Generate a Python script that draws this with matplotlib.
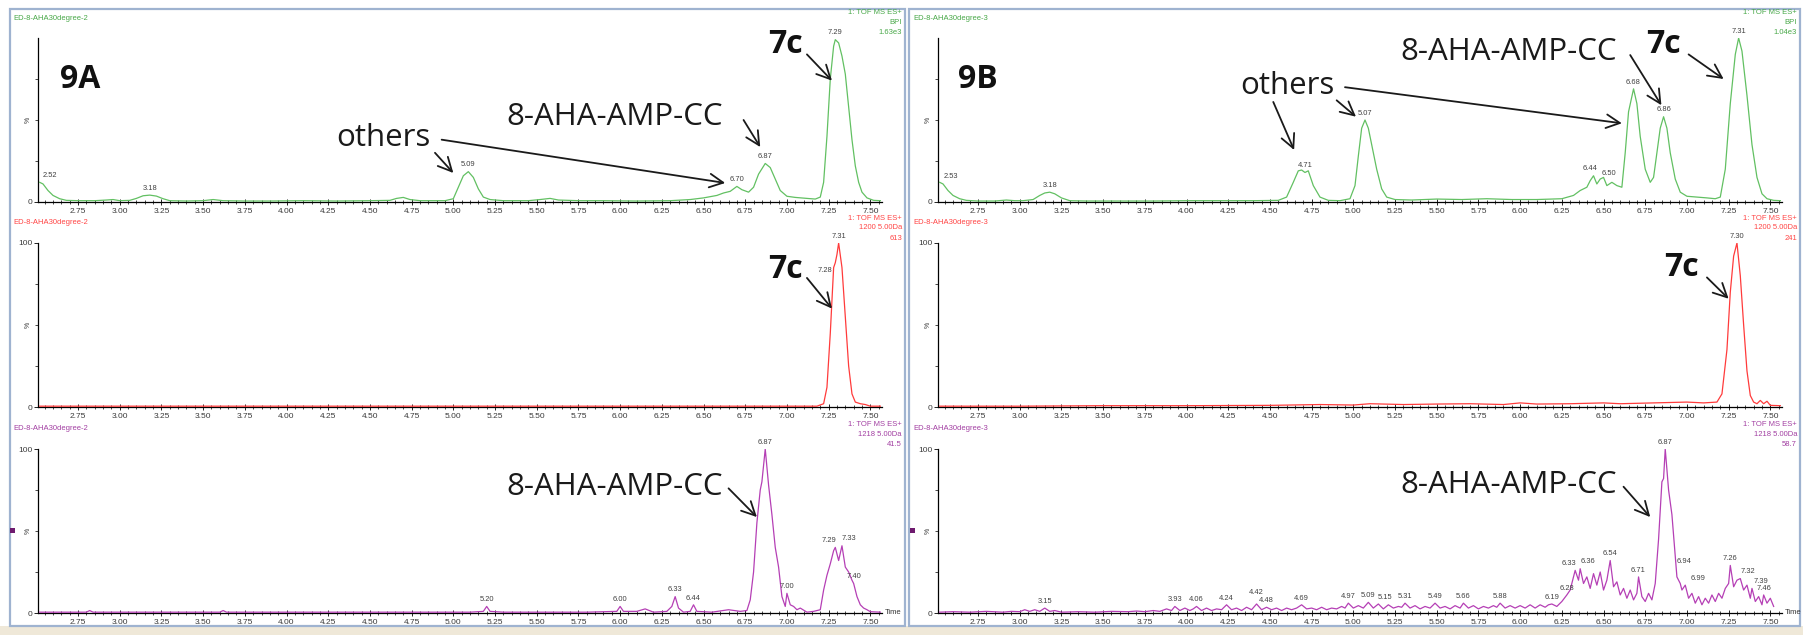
import numpy as np
import matplotlib
matplotlib.use('Agg')
import matplotlib.pyplot as plt
from matplotlib.patches import Rectangle
from matplotlib.ticker import FixedLocator, MultipleLocator, FormatStrFormatter

plt.rcParams['font.family'] = ['Liberation Sans', 'DejaVu Sans']

# chromatogram traces as (retention time [min], relative intensity [%])
bpi_a = [(2.52, 12), (2.54, 11), (2.57, 7), (2.60, 4), (2.64, 2), (2.68, 1), (2.75, 0.8), (2.85, 0.8),
         (2.92, 1.2), (2.96, 1.5), (3.00, 0.8), (3.06, 1), (3.10, 2.2), (3.14, 3.8), (3.18, 4.2), (3.22, 3.6),
         (3.26, 2), (3.30, 0.8), (3.40, 0.6), (3.50, 0.8), (3.56, 1.5), (3.62, 0.8), (3.75, 0.6), (3.90, 0.6),
         (4.10, 0.8), (4.30, 0.6), (4.50, 0.8), (4.62, 1), (4.66, 2.2), (4.70, 2.8), (4.74, 1.5), (4.80, 0.8),
         (4.95, 0.8), (5.00, 2), (5.03, 9), (5.06, 16), (5.09, 18.5), (5.12, 15), (5.15, 8), (5.18, 3),
         (5.22, 1.5), (5.30, 0.8), (5.45, 0.8), (5.52, 1.5), (5.58, 2.2), (5.63, 1.2), (5.75, 0.8), (5.90, 0.8),
         (6.10, 0.6), (6.30, 0.8), (6.42, 1.5), (6.50, 2.5), (6.58, 4), (6.62, 5.5), (6.66, 6.5), (6.70, 9.5),
         (6.73, 7.5), (6.77, 6), (6.80, 9), (6.83, 17), (6.87, 23.5), (6.90, 21), (6.93, 14), (6.96, 7),
         (7.00, 3.5), (7.05, 2.8), (7.12, 2.2), (7.17, 1.8), (7.20, 3), (7.22, 12), (7.24, 40), (7.26, 75),
         (7.28, 95), (7.29, 99), (7.31, 97), (7.33, 89), (7.35, 78), (7.37, 58), (7.39, 38), (7.41, 22),
         (7.43, 12), (7.45, 6), (7.48, 2.5), (7.52, 1), (7.56, 0.8)]

bpi_b = [(2.52, 12), (2.54, 11), (2.57, 7), (2.60, 4), (2.64, 2), (2.68, 1), (2.75, 0.6), (2.85, 0.6),
         (2.92, 1.2), (2.97, 0.8), (3.02, 0.8), (3.08, 1.5), (3.12, 4), (3.15, 5.5), (3.18, 6), (3.21, 5),
         (3.25, 2.5), (3.30, 0.8), (3.40, 0.6), (3.60, 0.6), (3.80, 0.6), (4.00, 0.8), (4.20, 0.8), (4.40, 0.8),
         (4.55, 1), (4.60, 3), (4.64, 12), (4.67, 19), (4.69, 19.5), (4.71, 18), (4.73, 19), (4.76, 10),
         (4.80, 3), (4.85, 1), (4.92, 0.8), (4.98, 2), (5.01, 10), (5.03, 28), (5.05, 45), (5.07, 50),
         (5.09, 45), (5.11, 35), (5.14, 20), (5.17, 8), (5.20, 3), (5.25, 1.5), (5.35, 1.2), (5.50, 1.8),
         (5.65, 1.5), (5.80, 2), (5.95, 1.5), (6.10, 1.5), (6.25, 2), (6.32, 4), (6.36, 7), (6.40, 9),
         (6.42, 13), (6.44, 16), (6.46, 11), (6.48, 14), (6.50, 15), (6.52, 10), (6.55, 12), (6.58, 10),
         (6.61, 9), (6.63, 30), (6.65, 55), (6.68, 69), (6.70, 60), (6.72, 40), (6.75, 20), (6.78, 12),
         (6.80, 15), (6.82, 30), (6.84, 45), (6.86, 52), (6.88, 45), (6.90, 30), (6.93, 14), (6.96, 6),
         (7.00, 3.5), (7.06, 3), (7.12, 2.5), (7.17, 2), (7.20, 3), (7.23, 20), (7.26, 60), (7.29, 90),
         (7.31, 100), (7.33, 92), (7.36, 65), (7.39, 35), (7.42, 15), (7.45, 5), (7.48, 2), (7.52, 1),
         (7.56, 0.8)]

sir1200_a = [(2.52, 0.5), (3.00, 0.5), (4.00, 0.5), (5.00, 0.5), (6.00, 0.5), (7.00, 0.5), (7.18, 0.5),
             (7.22, 2), (7.24, 12), (7.26, 45), (7.28, 85), (7.29, 88), (7.30, 93), (7.31, 100), (7.33, 85),
             (7.35, 55), (7.37, 25), (7.39, 8), (7.41, 3), (7.44, 2), (7.47, 1.5), (7.50, 0.5), (7.56, 0.5)]

sir1200_b = [(2.52, 0.5), (3.00, 0.5), (3.50, 0.8), (4.00, 0.8), (4.50, 1), (4.80, 1.5), (5.00, 1.2),
             (5.10, 2), (5.30, 1.5), (5.50, 1.8), (5.70, 2), (5.90, 1.5), (6.00, 2.5), (6.10, 1.8), (6.30, 2),
             (6.50, 2.5), (6.60, 2), (6.80, 2.5), (7.00, 3), (7.10, 2.5), (7.18, 3), (7.21, 8), (7.24, 35),
             (7.26, 70), (7.28, 92), (7.30, 100), (7.32, 80), (7.34, 50), (7.36, 22), (7.38, 7), (7.40, 3),
             (7.42, 2), (7.44, 4), (7.46, 2), (7.48, 3.5), (7.50, 1), (7.56, 0.8)]

sir1218_a = [(2.52, 0.5), (2.80, 0.5), (2.82, 1.5), (2.84, 0.5), (3.50, 0.5), (3.60, 0.5), (3.62, 1.5),
             (3.64, 0.5), (4.50, 0.5), (5.10, 0.5), (5.18, 1), (5.20, 4), (5.22, 1), (5.30, 0.5), (5.80, 0.5),
             (5.98, 1), (6.00, 4), (6.02, 1), (6.10, 1), (6.15, 2.5), (6.20, 0.5), (6.28, 1), (6.31, 4),
             (6.33, 10), (6.35, 3), (6.38, 0.5), (6.42, 1), (6.44, 5), (6.46, 1), (6.55, 0.5), (6.65, 2),
             (6.72, 1), (6.76, 1.5), (6.78, 8), (6.80, 25), (6.82, 55), (6.84, 75), (6.85, 80), (6.87, 100),
             (6.89, 78), (6.91, 60), (6.93, 40), (6.95, 28), (6.97, 10), (6.99, 4), (7.00, 12), (7.02, 5),
             (7.04, 4), (7.06, 2), (7.08, 3), (7.12, 0.5), (7.16, 1), (7.20, 2), (7.22, 14), (7.24, 23),
             (7.26, 30), (7.28, 38), (7.29, 40), (7.31, 32), (7.33, 41), (7.35, 28), (7.37, 25), (7.39, 20),
             (7.40, 18), (7.42, 10), (7.44, 5), (7.46, 3), (7.48, 2), (7.50, 0.8), (7.56, 0.5)]

sir1218_b = [(2.52, 0.5), (2.60, 0.8), (2.70, 0.5), (2.80, 1), (2.90, 0.5), (2.95, 1), (3.00, 0.8), (3.03, 2),
             (3.06, 1), (3.09, 2), (3.12, 1), (3.15, 3), (3.18, 1), (3.21, 1.5), (3.25, 0.5), (3.35, 0.8),
             (3.45, 0.5), (3.55, 1), (3.65, 0.8), (3.70, 1.2), (3.75, 0.8), (3.80, 1.5), (3.84, 1), (3.88, 2.5),
             (3.91, 1.5), (3.93, 4), (3.96, 1.5), (3.99, 3), (4.02, 1.5), (4.04, 2.5), (4.06, 4), (4.09, 1.5),
             (4.12, 3), (4.15, 1.5), (4.18, 2.5), (4.21, 2), (4.24, 5), (4.27, 2), (4.30, 3), (4.33, 1.5),
             (4.36, 3.5), (4.39, 2), (4.42, 5.5), (4.45, 2), (4.48, 3.5), (4.51, 2), (4.54, 3), (4.57, 1.5),
             (4.60, 3), (4.63, 2), (4.66, 3), (4.69, 5), (4.72, 2.5), (4.75, 3), (4.78, 2), (4.81, 3.5),
             (4.84, 2), (4.87, 3), (4.90, 2.5), (4.93, 4), (4.95, 3), (4.97, 6), (5.00, 3), (5.03, 4.5),
             (5.06, 3), (5.09, 6.5), (5.12, 3), (5.15, 5.5), (5.18, 2.5), (5.21, 5), (5.24, 3), (5.27, 4),
             (5.29, 3.5), (5.31, 6), (5.34, 3), (5.37, 4.5), (5.40, 2.5), (5.43, 4), (5.46, 3), (5.49, 6),
             (5.52, 3), (5.55, 4), (5.58, 2.5), (5.61, 4.5), (5.64, 3), (5.66, 6), (5.69, 3), (5.72, 4.5),
             (5.75, 2.5), (5.78, 4), (5.81, 3), (5.84, 4.5), (5.86, 3.5), (5.88, 6), (5.91, 3), (5.94, 4.5),
             (5.97, 3), (6.00, 4.5), (6.03, 3), (6.06, 5), (6.09, 3), (6.12, 5), (6.15, 3.5), (6.17, 5),
             (6.19, 5.5), (6.22, 4), (6.25, 7), (6.28, 11), (6.30, 14), (6.33, 26), (6.35, 20), (6.36, 27),
             (6.38, 18), (6.40, 22), (6.42, 15), (6.44, 24), (6.46, 17), (6.48, 25), (6.50, 14), (6.52, 20),
             (6.54, 32), (6.56, 16), (6.58, 19), (6.60, 11), (6.62, 15), (6.64, 9), (6.66, 14), (6.68, 8),
             (6.70, 12), (6.71, 22), (6.73, 10), (6.75, 7), (6.77, 12), (6.79, 8), (6.81, 18), (6.83, 45),
             (6.85, 80), (6.86, 82), (6.87, 100), (6.89, 75), (6.91, 60), (6.93, 35), (6.94, 22), (6.96, 18),
             (6.97, 14), (6.99, 17), (7.01, 9), (7.03, 12), (7.05, 6), (7.07, 10), (7.09, 5), (7.11, 9),
             (7.13, 6), (7.15, 11), (7.17, 7), (7.19, 12), (7.21, 9), (7.23, 15), (7.25, 18), (7.26, 29),
             (7.28, 16), (7.30, 20), (7.32, 21), (7.34, 14), (7.36, 17), (7.38, 9), (7.39, 15), (7.41, 7),
             (7.43, 10), (7.45, 5), (7.46, 11), (7.48, 6), (7.50, 9), (7.52, 4)]

# labelled peak apexes (retention times)
peaks_bpi_a = [2.52, 3.18, 5.09, 6.70, 6.87, 7.29]
peaks_bpi_b = [2.53, 3.18, 4.71, 5.07, 6.44, 6.50, 6.68, 6.86, 7.31]
peaks_1200_a = [7.28, 7.31]
peaks_1200_b = [7.30]
peaks_1218_a = [5.20, 6.00, 6.33, 6.44, 6.87, 7.00, 7.29, 7.33, 7.40]
peaks_1218_b = [3.15, 3.93, 4.06, 4.24, 4.42, 4.48, 4.69, 4.97, 5.09, 5.15, 5.31, 5.49, 5.66, 5.88,
                6.19, 6.28, 6.33, 6.36, 6.54, 6.71, 6.87, 6.94, 6.99, 7.26, 7.32, 7.39, 7.46]

runs = ['ED-8-AHA30degree-2', 'ED-8-AHA30degree-3']
info_bpi = [['1: TOF MS ES+', 'BPI', '1.63e3'], ['1: TOF MS ES+', 'BPI', '1.04e3']]
info_1200 = [['1: TOF MS ES+', '1200 5.00Da', '613'], ['1: TOF MS ES+', '1200 5.00Da', '241']]
info_1218 = [['1: TOF MS ES+', '1218 5.00Da', '41.5'], ['1: TOF MS ES+', '1218 5.00Da', '58.7']]

GREEN, RED, PURPLE = '#62c062', '#ff3b3b', '#b53fb5'
TXT_GREEN, TXT_RED, TXT_PURPLE = '#48a848', '#ff4545', '#a23fa2'

W, H = 1803, 635
fig = plt.figure(figsize=(W / 100, H / 100), dpi=100)
fig.patch.set_facecolor('white')

col_x0 = [38, 938]
row_y = [(38, 202), (243, 407), (449, 613)]
AX_W = 844


def fx(x):
    return x / W


def fy(y):
    return 1 - y / H


# window frames and bottom strip
fig.add_artist(Rectangle((0, 0), 1, fy(626), transform=fig.transFigure, fc='#efe8d8', ec='none'))
for x0, x1 in [(10, 905), (909, 1800)]:
    fig.add_artist(Rectangle((fx(x0), fy(626)), fx(x1 - x0), (626 - 9) / H, transform=fig.transFigure,
                             fill=False, ec='#9fb3d0', lw=1.6))

panels = [
    (0, 0, bpi_a, GREEN, TXT_GREEN, info_bpi[0], peaks_bpi_a, False),
    (1, 0, bpi_b, GREEN, TXT_GREEN, info_bpi[1], peaks_bpi_b, False),
    (0, 1, sir1200_a, RED, TXT_RED, info_1200[0], peaks_1200_a, True),
    (1, 1, sir1200_b, RED, TXT_RED, info_1200[1], peaks_1200_b, True),
    (0, 2, sir1218_a, PURPLE, TXT_PURPLE, info_1218[0], peaks_1218_a, True),
    (1, 2, sir1218_b, PURPLE, TXT_PURPLE, info_1218[1], peaks_1218_b, True),
]

# small shifts for crowded apex labels: (dx [min], dy [%], ha)
nudge = {
    (0, 0, '2.52'): (0.06, 0, 'center'),
    (1, 0, '2.53'): (0.06, 0, 'center'),
    (1, 0, '6.44'): (-0.02, 0, 'center'),
    (1, 0, '6.50'): (0.03, -2, 'center'),
    (0, 1, '7.28'): (-0.01, -6, 'right'),
    (0, 2, '7.29'): (0.005, 0, 'right'),
    (0, 2, '7.33'): (0.0, 0, 'left'),
    (1, 2, '4.42'): (0, 3, 'center'),
    (1, 2, '5.15'): (0.04, 0, 'center'),
    (1, 2, '6.33'): (0.005, 0, 'right'),
    (1, 2, '6.36'): (0.0, 0, 'left'),
    (1, 2, '6.94'): (0.0, 5, 'left'),
    (1, 2, '6.99'): (0.03, 0, 'left'),
    (1, 2, '7.32'): (0.0, 0, 'left'),
    (1, 2, '7.39'): (0.01, 0, 'left'),
}

axes = {}
for col, row, trace, color, tcolor, info, peaks, full_scale in panels:
    top, bot = row_y[row]
    x0 = col_x0[col]
    ax = fig.add_axes([fx(x0), fy(bot), AX_W / W, (bot - top) / H])
    axes[(col, row)] = ax
    t, p = np.array(trace).T
    ax.plot(t, p, color=color, lw=0.9)
    ax.set_xlim(2.51, 7.57)
    ax.set_ylim(0, 100)
    ax.patch.set_alpha(0)
    for s in ['top', 'right']:
        ax.spines[s].set_visible(False)
    for s in ['left', 'bottom']:
        ax.spines[s].set_linewidth(0.9)
        ax.spines[s].set_zorder(1)
    ax.xaxis.set_major_locator(FixedLocator(np.arange(2.75, 7.51, 0.25)))
    ax.xaxis.set_major_formatter(FormatStrFormatter('%.2f'))
    ax.xaxis.set_minor_locator(MultipleLocator(0.05))
    ax.tick_params(axis='x', which='major', direction='inout', length=4, width=0.6,
                   labelsize=6, labelcolor='#3a3a3a', pad=2)
    ax.tick_params(axis='x', which='minor', direction='inout', length=2.5, width=0.5)
    if full_scale:
        ax.set_yticks([0, 100])
        ax.set_yticklabels(['0', '100'])
    else:
        ax.set_yticks([0])
        ax.set_yticklabels(['0'])
    ax.yaxis.set_minor_locator(FixedLocator([25, 50, 75]))
    ax.tick_params(axis='y', which='major', direction='out', length=3, width=0.6,
                   labelsize=6, labelcolor='#3a3a3a', pad=1)
    ax.tick_params(axis='y', which='minor', direction='out', length=2, width=0.5)
    ax.text(-0.012, 50, '%', transform=ax.get_yaxis_transform(), rotation=90, fontsize=5,
            color='#333333', ha='center', va='center')

    # apex retention-time labels
    for pk in peaks:
        lab = f'{pk:.2f}'
        dx, dy, ha = nudge.get((col, row, lab), (0, 0, 'center'))
        h = np.interp(pk, t, p)
        ax.text(pk + dx, h + 2 + dy, lab, fontsize=5.4, color='#404040', ha=ha, va='bottom', clip_on=False)

    # run name and trace description
    fig.text(fx(x0 - 25), fy(top - 20), runs[col], fontsize=5.5, color=tcolor, va='center')
    right = 902 if col == 0 else 1797
    for i, line in enumerate(info):
        fig.text(fx(right), fy(top - 25 + 10 * i), line, fontsize=5.5, color=tcolor, ha='right', va='center')

    if row == 2:
        fig.text(fx(x0 + AX_W + 3), fy(bot), 'Time', fontsize=5.5, color='#333333', va='center')
        fig.add_artist(Rectangle((fx(x0 - 28), fy(bot - 80)), 5 / W, 5 / H, transform=fig.transFigure,
                                 fc='#6e1a6e', ec='none'))

BIG = dict(family='Open Sans', fontsize=22.5, color='#1a1a1a')
BOLD = dict(family='Open Sans', fontsize=23, fontweight='bold', color='#111111')
ARROW = dict(arrowstyle='->,head_length=0.7,head_width=0.35', lw=1.3, color='#1a1a1a',
             shrinkA=0, shrinkB=0, mutation_scale=14)


def arrow(ax, tail, head):
    ax.annotate('', xy=head, xytext=tail, arrowprops=ARROW, annotation_clip=False)


# 9A: base peak chromatogram
ax = axes[(0, 0)]
ax.text(2.64, 75, '9A', va='center', ha='left', **BOLD)
ax.text(4.30, 39, 'others', va='center', ha='left', **BIG)
arrow(ax, (4.89, 30), (5.00, 17.7))
arrow(ax, (4.93, 38), (6.63, 11.6))
ax.text(5.316, 52, '8-AHA-AMP-CC', va='center', ha='left', **BIG)
arrow(ax, (6.74, 50), (6.84, 33.5))
ax.text(6.99, 96, '7c', va='center', ha='center', **BOLD)
arrow(ax, (7.12, 90), (7.27, 74))

# 9B: base peak chromatogram
ax = axes[(1, 0)]
ax.text(2.63, 75, '9B', va='center', ha='left', **BOLD)
ax.text(4.32, 71, 'others', va='center', ha='left', **BIG)
arrow(ax, (4.52, 61), (4.645, 31.7))
arrow(ax, (4.90, 62), (5.016, 52))
arrow(ax, (4.95, 70), (6.61, 48))
ax.text(5.284, 91.5, '8-AHA-AMP-CC', va='center', ha='left', **BIG)
arrow(ax, (6.66, 89.6), (6.847, 59))
ax.text(6.86, 96, '7c', va='center', ha='center', **BOLD)
arrow(ax, (7.01, 90), (7.22, 75))

# m/z 1200 extracted ion chromatograms
ax = axes[(0, 1)]
ax.text(6.99, 84, '7c', va='center', ha='center', **BOLD)
arrow(ax, (7.12, 78.7), (7.27, 60))
ax = axes[(1, 1)]
ax.text(6.97, 85, '7c', va='center', ha='center', **BOLD)
arrow(ax, (7.12, 79), (7.25, 66))

# m/z 1218 extracted ion chromatograms
ax = axes[(0, 2)]
ax.text(5.316, 77, '8-AHA-AMP-CC', va='center', ha='left', **BIG)
arrow(ax, (6.65, 76), (6.82, 58.5))
ax = axes[(1, 2)]
ax.text(5.284, 78, '8-AHA-AMP-CC', va='center', ha='left', **BIG)
arrow(ax, (6.62, 77), (6.78, 58.5))

fig.savefig('out.png', dpi=100, facecolor='white')
